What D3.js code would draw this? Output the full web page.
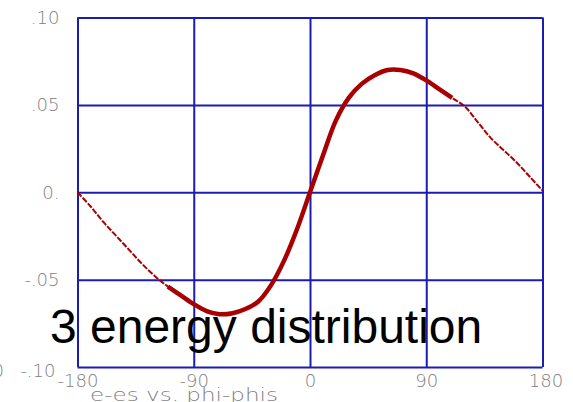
<!DOCTYPE html>
<html>
<head>
<meta charset="utf-8">
<script src="https://cdn.jsdelivr.net/npm/d3@7"></script>
<style>
  body { margin: 0; background: #fff; }
  svg { display: block; }
</style>
</head>
<body>
<svg id="chart"></svg>
<script>
const phi = [-180, -170, -160, -150, -140, -130, -120, -110, -100, -90, -80, -70, -60, -50, -40, -30, -20, -10,
  0, 10, 20, 30, 40, 50, 60, 70, 80, 90, 100, 110, 120, 130, 140, 150, 160, 170, 180];
const dE = [0.000, -0.008, -0.017, -0.025, -0.033, -0.041, -0.048, -0.054, -0.059, -0.064, -0.068, -0.0698, -0.0692, -0.0668, -0.0625, -0.053, -0.039, -0.021,
  0.000, 0.021, 0.041, 0.054, 0.062, 0.067, 0.070, 0.070, 0.068, 0.064, 0.059, 0.054, 0.049, 0.040, 0.031, 0.024, 0.017, 0.009, 0.001];

const xTicks = [-180, -90, 0, 90, 180];
const xTickLabels = ["-180", "-90", "0", "90", "180"];
const yTicks = [0.10, 0.05, 0, -0.05, -0.10];
const yTickLabels = [".10", ".05", "0.", "-.05", "-.10"];

const W = 573, H = 402;
const plot = { left: 77.5, right: 542.5, top: 17.5, bottom: 367 };
const grid = "#1c1cb0";
const curveColor = "#a80000";
const tickColor = "#808080";

const svg = d3.select("#chart")
  .attr("width", W)
  .attr("height", H);

const x = d3.scaleLinear().domain([-180, 180]).range([plot.left, plot.right]);
const y = d3.scaleLinear().domain([-0.10, 0.10]).range([plot.bottom, plot.top]);

function tickStyle(sel) {
  sel.attr("fill", tickColor)
    .style("font-family", "DejaVu Sans")
    .style("font-weight", 200)
    .style("font-size", "18px");
}

// grid + x labels
const xAxis = svg.append("g")
  .attr("transform", `translate(0,${plot.bottom})`)
  .call(d3.axisBottom(x)
    .tickValues(xTicks)
    .tickFormat((d, i) => xTickLabels[i])
    .tickSize(-(plot.bottom - plot.top))
    .tickPadding(7));
xAxis.select(".domain").remove();
xAxis.selectAll("line").attr("stroke", grid).attr("stroke-width", 2);
xAxis.selectAll("text").call(tickStyle);
xAxis.selectAll(".tick").filter(d => d === 180).select("text").attr("dx", 3);

// grid + y labels
const yAxis = svg.append("g")
  .attr("transform", `translate(${plot.left},0)`)
  .call(d3.axisLeft(y)
    .tickValues(yTicks)
    .tickFormat((d, i) => yTickLabels[i])
    .tickSize(-(plot.right - plot.left))
    .tickPadding(18));
yAxis.select(".domain").remove();
yAxis.selectAll("line").attr("stroke", grid).attr("stroke-width", 2);
yAxis.selectAll("text").call(tickStyle);
yAxis.selectAll(".tick").filter(d => d === -0.10).select("text").attr("dx", -4).attr("dy", "0.5em");

// stray clipped label at the far left
svg.append("text")
  .attr("x", 4)
  .attr("y", 377)
  .attr("text-anchor", "end")
  .call(tickStyle)
  .text("0");

// axis title
svg.append("text")
  .attr("x", 90)
  .attr("y", 401)
  .attr("textLength", 188)
  .attr("lengthAdjust", "spacingAndGlyphs")
  .call(tickStyle)
  .style("font-size", "17px")
  .text("e-es vs. phi-phis");

// curve
const pts = phi.map((p, i) => ({ p, v: dE[i] }));
const line = d3.line()
  .x(d => x(d.p))
  .y(d => y(d.v))
  .curve(d3.curveCatmullRom);

svg.append("path")
  .datum(pts)
  .attr("fill", "none")
  .attr("stroke", curveColor)
  .attr("stroke-width", 2)
  .attr("stroke-dasharray", "6 1.5")
  .attr("d", line);

svg.append("path")
  .datum(pts.filter(d => d.p >= -110 && d.p <= 110))
  .attr("fill", "none")
  .attr("stroke", curveColor)
  .attr("stroke-width", 4.5)
  .attr("d", line);

// overlay caption
svg.append("text")
  .attr("x", 50)
  .attr("y", 343)
  .attr("fill", "#000")
  .style("font-family", "Liberation Sans, Arial, sans-serif")
  .style("font-size", "48px")
  .text("3 energy distribution");
</script>
</body>
</html>
